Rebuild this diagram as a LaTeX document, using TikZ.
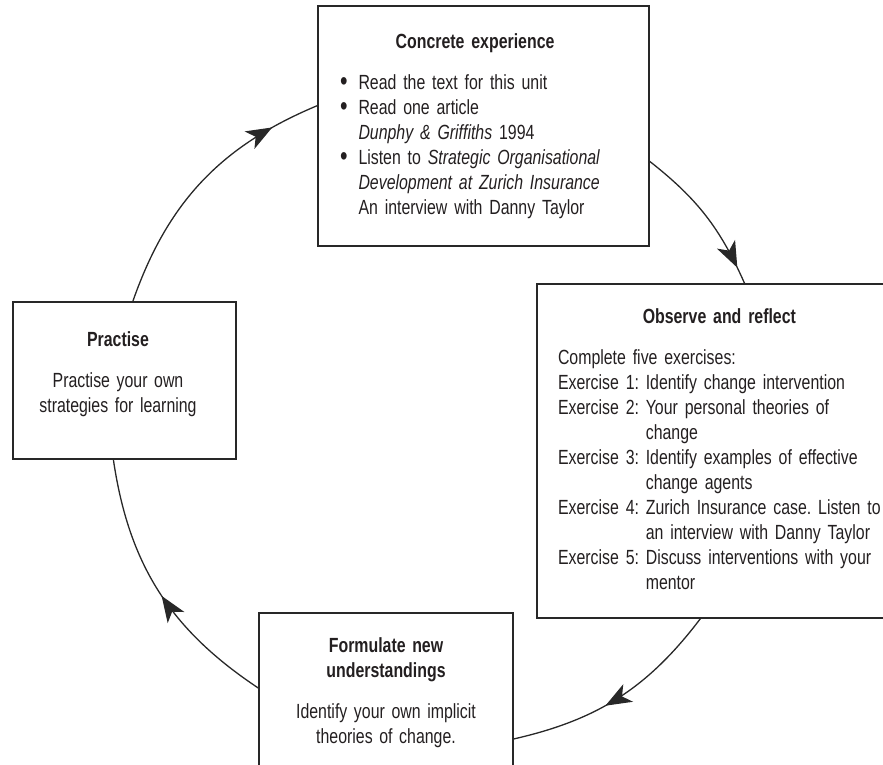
\documentclass[tikz,border=0pt]{standalone}
\usepackage{fontspec}
\usepackage{graphicx}
\setmainfont{Liberation Sans}[FakeStretch=0.775, WordSpace=1.5]
\usepackage{tikz}
\usetikzlibrary{arrows.meta,decorations.markings}
\definecolor{cycink}{RGB}{35,31,32}
\definecolor{cycline}{RGB}{40,40,40}
\newcommand\cycbullet{\raisebox{-1pt}{\scalebox{1.35}{\textbullet}}}
\frenchspacing

\begin{document}
\begin{tikzpicture}[x=1pt,y=1pt,
  stagebox/.style={draw=cycline, line width=1.3pt, rectangle, inner sep=0pt, text=cycink, font=\fontsize{20.5}{25}\selectfont},
  cycarc/.style={draw=cycline, line width=1.3pt, postaction={decorate}},
  tipat/.style={decoration={markings, mark=at position #1 with {\arrow{Stealth[length=26pt,width=20pt,inset=7pt]}}}}]
  \useasboundingbox (0,0) rectangle (883,-764);
  \clip (0,0) rectangle (883,-764);

  %% Concrete experience (top)
  \node[stagebox, minimum width=331, minimum height=240, text width=287, align=left] (concrete) at (483.5,-126) {%
    \begin{tabular}{@{}c@{\hspace{11pt}}l@{}}
      \multicolumn{2}{@{}c@{}}{\hspace{10pt}\bfseries Concrete experience}\\[16pt]
      \cycbullet & Read the text for this unit\\
      \cycbullet & Read one article\\
                 & \textit{Dunphy \& Griffiths} 1994\\
      \cycbullet & Listen to \textit{Strategic Organisational}\\
                 & \textit{Development at Zurich Insurance}\\
                 & An interview with Danny Taylor
    \end{tabular}};

  %% Observe and reflect (right)
  \node[stagebox, minimum width=362, minimum height=334, text width=320, align=left] (observe) at (718,-451) {%
    \begin{tabular}{@{}l@{\ }l@{}}
      \multicolumn{2}{@{}c@{}}{\bfseries Observe and reflect}\\[16pt]
      \multicolumn{2}{@{}l@{}}{Complete five exercises:}\\
      Exercise 1: & Identify change intervention\\
      Exercise 2: & Your personal theories of\\
                  & change\\
      Exercise 3: & Identify examples of effective\\
                  & change agents\\
      Exercise 4: & Zurich Insurance case. Listen to\\
                  & an interview with Danny Taylor\\
      Exercise 5: & Discuss interventions with your\\
                  & mentor
    \end{tabular}};

  %% Formulate new understandings (bottom)
  \node[stagebox, minimum width=254, minimum height=159, align=center] (formulate) at (386,-692.5) {%
    \begin{tabular}{@{}c@{}}
      \bfseries Formulate new\\
      \bfseries understandings\\[16pt]
      Identify your own implicit\\
      theories of change.
    \end{tabular}};

  %% Practise (left)
  \node[stagebox, minimum width=223, minimum height=157, align=center] (practise) at (124.5,-380.5) {%
    \begin{tabular}{@{}c@{\hspace{13pt}}}
      \bfseries Practise\\[16pt]
      Practise your own\\
      strategies for learning\\[12pt]
    \end{tabular}};

  %% Cycle arcs
  \draw[cycarc, tipat=0.82] (practise.84.5) to[bend left=24] (concrete.173.8);
  \draw[cycarc, tipat=0.89] (concrete.348.7) to[bend left=14] (observe.81.5);
  \draw[cycarc, tipat=0.57] (observe.264.5) to[bend left=20] (formulate.340.3);
  \draw[cycarc, tipat=0.48] (formulate.178.9) to[bend left=24] (practise.262.4);
\end{tikzpicture}
\end{document}
